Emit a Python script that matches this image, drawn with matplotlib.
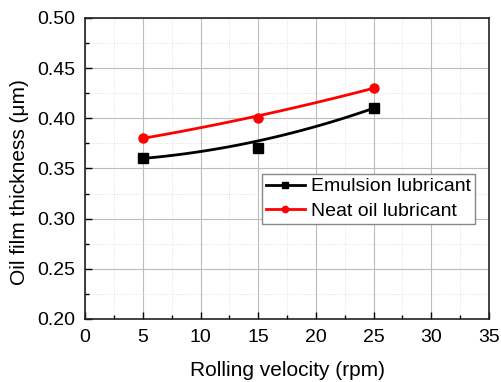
import numpy as np
import matplotlib.pyplot as plt
from matplotlib.ticker import MultipleLocator

plt.rcParams['font.family'] = ['Liberation Sans', 'DejaVu Sans']

velocity = [5, 15, 25]
emulsion = [0.36, 0.37, 0.41]
neat_oil = [0.38, 0.40, 0.43]


def bspline(x, y, n=100):
    # quadratic B-spline through end points, middle point as control
    t = np.linspace(0, 1, n)
    bx = (1 - t) ** 2 * x[0] + 2 * t * (1 - t) * x[1] + t ** 2 * x[2]
    by = (1 - t) ** 2 * y[0] + 2 * t * (1 - t) * y[1] + t ** 2 * y[2]
    return bx, by


fig = plt.figure(figsize=(5.01, 3.82), dpi=100)
ax = fig.add_axes([0.170, 0.165, 0.806, 0.788])

for yv, col, mk, lab in [(emulsion, 'black', 's', 'Emulsion lubricant'),
                         (neat_oil, 'red', 'o', 'Neat oil lubricant')]:
    sx, sy = bspline(velocity, yv)
    ax.plot(sx, sy, color=col, lw=2, zorder=3)
    ax.plot(velocity, yv, ls='none', marker=mk, color=col, ms=6.5, zorder=4)
    ax.plot([], [], color=col, lw=2, marker=mk, ms=4.5, label=lab)

ax.set_xlim(0, 35)
ax.set_ylim(0.20, 0.50)
ax.xaxis.set_major_locator(MultipleLocator(5))
ax.xaxis.set_minor_locator(MultipleLocator(2.5))
ax.yaxis.set_major_locator(MultipleLocator(0.05))
ax.yaxis.set_minor_locator(MultipleLocator(0.025))
ax.yaxis.set_major_formatter(plt.FormatStrFormatter('%.2f'))

ax.grid(which='major', color='#bcbcbc', lw=0.8)
ax.grid(which='minor', color='#dadada', lw=0.6, ls=':')
ax.set_axisbelow(True)

ax.tick_params(which='both', direction='in', top=False, right=False, labelsize=14)
ax.tick_params(which='major', length=5, width=1, pad=7)
ax.tick_params(which='minor', length=3, width=1)
for s in ax.spines.values():
    s.set_linewidth(1.2)
    s.set_color('#222222')

ax.set_xlabel('Rolling velocity (rpm)', fontsize=15, labelpad=11)
ax.set_ylabel('Oil film thickness (\u03bcm)', fontsize=15)
ax.yaxis.set_label_coords(-0.139, 0.455)

leg = ax.legend(loc='upper left', bbox_to_anchor=(0.438, 0.482), fontsize=14,
                fancybox=False, framealpha=1, edgecolor='#888888',
                handlelength=2.0, handletextpad=0.3, borderpad=0.2,
                labelspacing=0.35, borderaxespad=0)
leg.get_frame().set_linewidth(1)

fig.savefig('out.png', dpi=100)
